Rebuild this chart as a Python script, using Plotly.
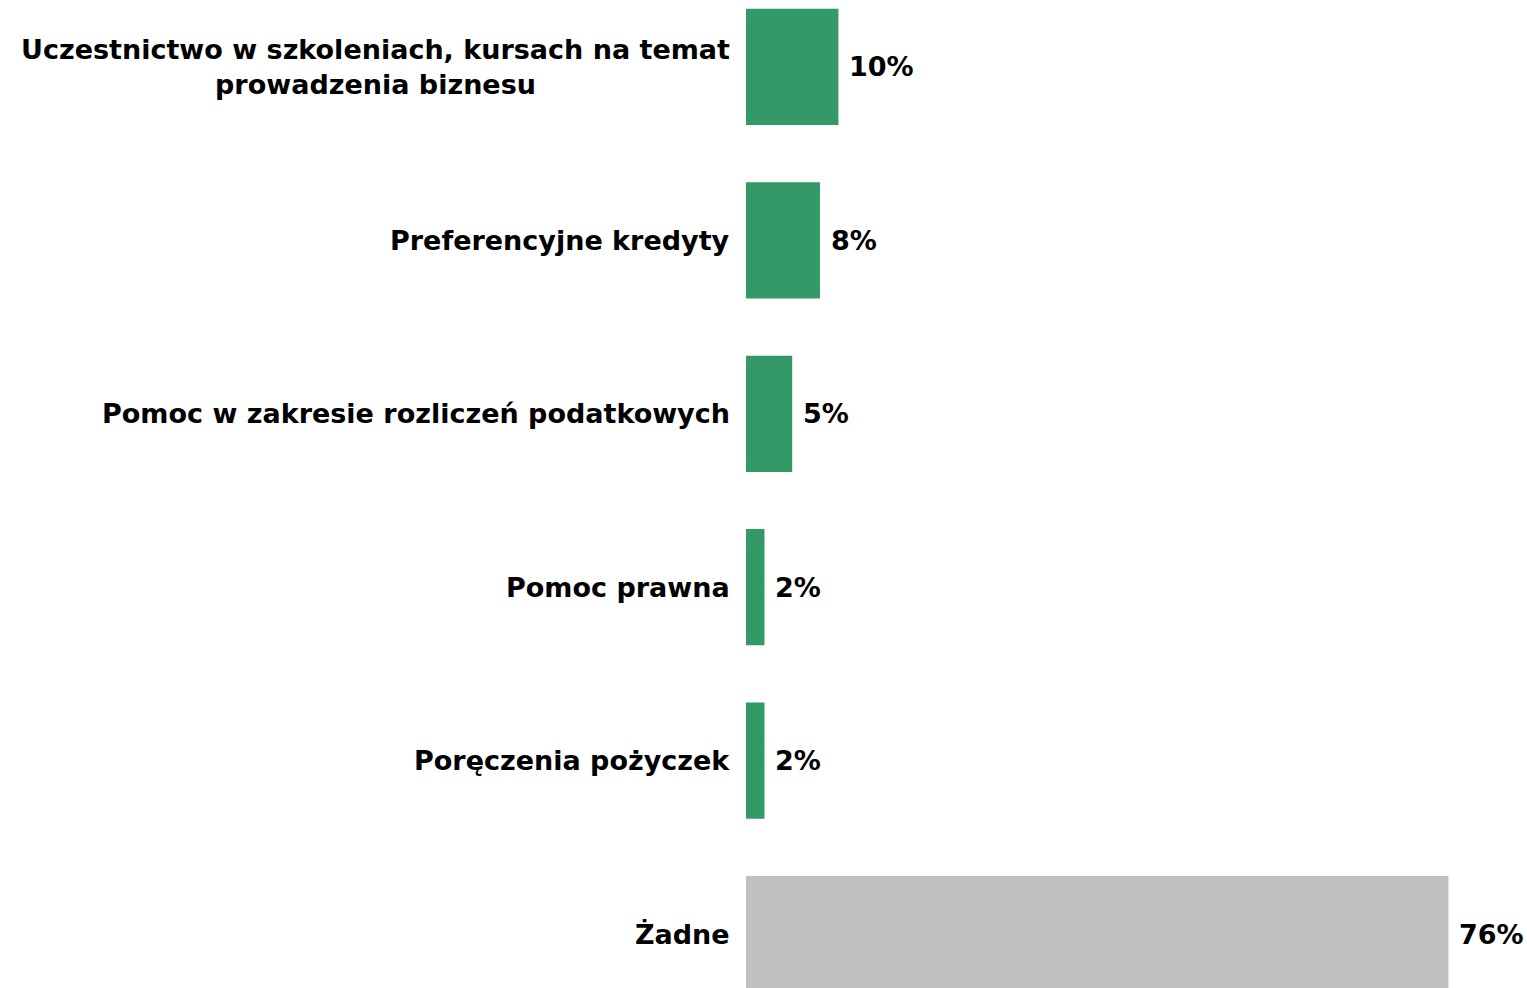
import plotly.graph_objects as go

# Dane
categories = [
    "Uczestnictwo w szkoleniach, kursach na temat<br>prowadzenia biznesu",
    "Preferencyjne kredyty",
    "Pomoc w zakresie rozliczeń podatkowych",
    "Pomoc prawna",
    "Poręczenia pożyczek",
    "Żadne",
]
values = [10, 8, 5, 2, 2, 76]
value_labels = ["10%", "8%", "5%", "2%", "2%", "76%"]

GREEN = "#339966"
GRAY = "#C0C0C0"
FONT = "DejaVu Sans"

colors = [GRAY if c == "Żadne" else GREEN for c in categories]

fig = go.Figure(go.Bar(
    x=values,
    y=categories,
    orientation="h",
    marker=dict(color=colors, line=dict(width=0)),
    width=0.67,
    hoverinfo="skip",
))

# etykiety kategorii (wyśrodkowane przy wielu liniach)
for cat in categories:
    fig.add_annotation(
        x=0, xref="paper", y=cat, yref="y",
        text="<b>" + cat + "</b>", showarrow=False,
        xanchor="right", yanchor="middle", align="center", xshift=-14,
        font=dict(family=FONT, size=27, color="#000000"),
    )

# etykiety wartości
for cat, v, lab in zip(categories, values, value_labels):
    fig.add_annotation(
        x=v, xref="x", y=cat, yref="y",
        text="<b>" + lab + "</b>", showarrow=False,
        xanchor="left", yanchor="middle", xshift=9,
        font=dict(family=FONT, size=27, color="#000000"),
    )

fig.update_layout(
    width=1527, height=988,
    margin=dict(l=746, r=0, t=0, b=0),
    plot_bgcolor="white", paper_bgcolor="white",
    showlegend=False,
    xaxis=dict(range=[0, 84.5], visible=False),
    yaxis=dict(
        type="category", categoryorder="array", categoryarray=categories,
        range=[5.311, -0.386], showticklabels=False, showgrid=False,
        zeroline=False, showline=False, ticks="",
    ),
)

# bez marginesu strony, żeby wykres zajmował całe okno
fig.write_html(
    "out.html",
    config={"displayModeBar": False},
    post_script="document.body.style.margin='0';",
)
